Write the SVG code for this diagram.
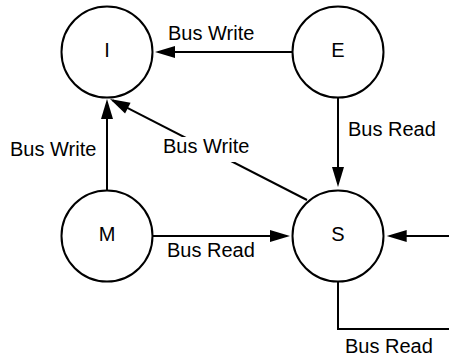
<svg xmlns="http://www.w3.org/2000/svg" width="449" height="356" viewBox="0 0 449 356">
  <style>
    .state circle { fill: #ffffff; stroke: #000000; stroke-width: 2; }
    .state text { font-family: "Liberation Sans", Arial, sans-serif; font-size: 20px; fill: #000000; text-anchor: middle; }
    .edge { fill: none; stroke: #000000; stroke-width: 2; }
    .label { font-family: "Liberation Sans", Arial, sans-serif; font-size: 20px; fill: #000000; }
  </style>
  <defs>
    <marker id="arrow" markerUnits="userSpaceOnUse" markerWidth="20" markerHeight="12" refX="17" refY="6" orient="auto" overflow="visible">
      <path d="M0,0 L20,6 L0,12 Z" fill="#000000"/>
    </marker>
  </defs>
  <rect x="0" y="0" width="449" height="356" fill="#ffffff"/>

  <!-- transitions -->
  <g id="connectors">
    <path class="edge" d="M292,52 L158,52" marker-end="url(#arrow)"/>
    <path class="edge" d="M338,98 L338,184" marker-end="url(#arrow)"/>
    <path class="edge" d="M107,190 L107,102" marker-end="url(#arrow)"/>
    <path class="edge" d="M307,200 L112.7,100.4" marker-end="url(#arrow)"/>
    <path class="edge" d="M153,236 L287,236" marker-end="url(#arrow)"/>
    <path class="edge" d="M449,236 L389.7,236" marker-end="url(#arrow)"/>
    <path class="edge" d="M338,282 L338,329 L449,329"/>
    <!-- labels -->
    <text class="label" x="168" y="40">Bus Write</text>
    <text class="label" x="348" y="136">Bus Read</text>
    <text class="label" x="10" y="156">Bus Write</text>
    <rect x="161" y="137" width="93" height="25" fill="#ffffff"/>
    <text class="label" x="163" y="153">Bus Write</text>
    <text class="label" x="167" y="257">Bus Read</text>
    <text class="label" x="345" y="353">Bus Read</text>
  </g>

  <!-- states -->
  <g id="state-I" class="state">
    <circle cx="107" cy="52" r="45.5"/>
    <text x="107" y="57">I</text>
  </g>
  <g id="state-E" class="state">
    <circle cx="338" cy="52" r="45.5"/>
    <text x="338" y="57">E</text>
  </g>
  <g id="state-M" class="state">
    <circle cx="107" cy="236" r="45.5"/>
    <text x="107" y="241">M</text>
  </g>
  <g id="state-S" class="state">
    <circle cx="338" cy="236" r="45.5"/>
    <text x="338" y="241">S</text>
  </g>
</svg>
